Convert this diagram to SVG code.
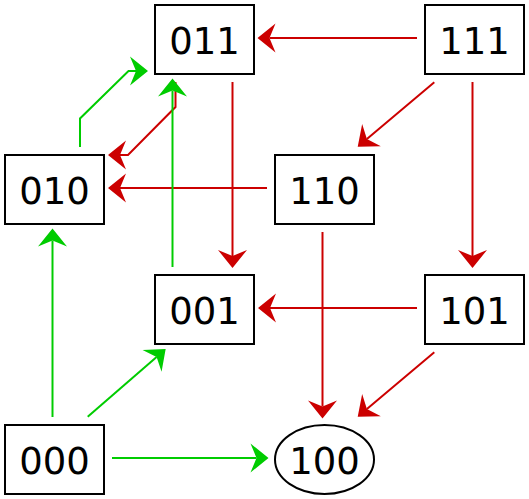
<svg xmlns="http://www.w3.org/2000/svg" width="529" height="499" viewBox="0 0 529 499">
<style>
.node rect, .node ellipse { fill: #ffffff; stroke: #000000; stroke-width: 2; }
.node text { font-family: "DejaVu Sans", "Liberation Sans", sans-serif; font-size: 37px; fill: #000000; text-anchor: middle; }
.red { fill: none; stroke: #cc0000; stroke-width: 2; marker-end: url(#ar); }
.green { fill: none; stroke: #00cc00; stroke-width: 2; marker-end: url(#ag); }
</style>
<defs>
<marker id="ar" markerUnits="userSpaceOnUse" viewBox="-8 -16 22 32" markerWidth="22" markerHeight="32" refX="0" refY="0" orient="auto">
<path d="M12,0 L-6,-14.5 L0,0 L-6,14.5 Z" fill="#cc0000"/>
</marker>
<marker id="ag" markerUnits="userSpaceOnUse" viewBox="-8 -16 22 32" markerWidth="22" markerHeight="32" refX="0" refY="0" orient="auto">
<path d="M12,0 L-6,-14.5 L0,0 L-6,14.5 Z" fill="#00cc00"/>
</marker>
</defs>
<g id="connectors">
<path class="red" d="M417,38 L269.5,38"/>
<path class="red" d="M434.3,82.3 L366.9,139"/>
<path class="red" d="M472.5,82 L472.5,256"/>
<path class="red" d="M232.5,82 L232.5,256"/>
<path class="red" d="M175.5,82 L175.5,107 L128,155 L120,155"/>
<path class="red" d="M267,188 L120,188"/>
<path class="red" d="M322.5,232 L322.5,406.5"/>
<path class="red" d="M417,308 L270,308"/>
<path class="red" d="M434.3,352.3 L366.9,409"/>
<path class="green" d="M80,147 L80,118.5 L128.5,71 L136,71"/>
<path class="green" d="M172.5,267 L172.5,90.5"/>
<path class="green" d="M52.5,417 L52.5,240.5"/>
<path class="green" d="M87.7,416.7 L156.6,356.9"/>
<path class="green" d="M112,458 L256.5,458"/>
</g>
<g id="n011" class="node"><rect x="155" y="5" width="99" height="69"/><text x="204.5" y="53.5">011</text></g>
<g id="n111" class="node"><rect x="425" y="5" width="99" height="69"/><text x="474.5" y="53.5">111</text></g>
<g id="n010" class="node"><rect x="5" y="155" width="99" height="69"/><text x="54.5" y="203.5">010</text></g>
<g id="n110" class="node"><rect x="275" y="155" width="99" height="69"/><text x="324.5" y="203.5">110</text></g>
<g id="n001" class="node"><rect x="155" y="275" width="99" height="69"/><text x="204.5" y="323.5">001</text></g>
<g id="n101" class="node"><rect x="425" y="275" width="99" height="69"/><text x="474.5" y="323.5">101</text></g>
<g id="n000" class="node"><rect x="5" y="425" width="99" height="69"/><text x="54.5" y="473.5">000</text></g>
<g id="n100" class="node"><ellipse cx="324.5" cy="459.5" rx="49.5" ry="34.5"/><text x="324.5" y="473.5">100</text></g>
</svg>
